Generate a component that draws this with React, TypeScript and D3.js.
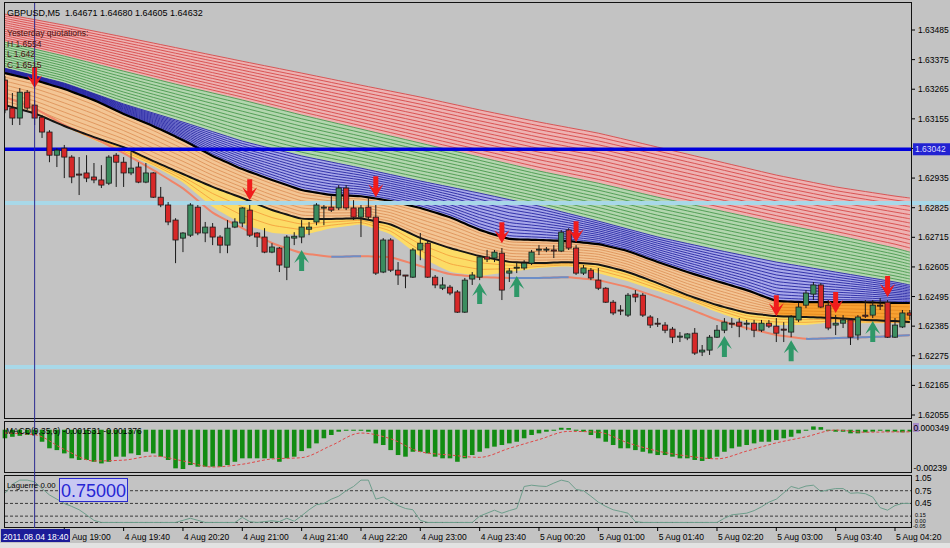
import React, { useEffect } from 'react';
import * as d3 from 'd3';

// GBPUSD M5, one bar every 5 minutes from 4 Aug 2011 18:20 to 5 Aug 04:30
const open = [
  1.63299, 1.63195, 1.63158, 1.63254, 1.63206, 1.63161, 1.63106, 1.6302, 1.63046, 1.63013,
  1.6295, 1.62954, 1.62939, 1.62928, 1.62916, 1.6302, 1.62994, 1.62954, 1.62976, 1.6292,
  1.62954, 1.62864, 1.62835, 1.62779, 1.62712, 1.62723, 1.62827, 1.62731, 1.62753, 1.62716,
  1.62686, 1.62753, 1.62768, 1.62816, 1.62731, 1.62716, 1.6266, 1.62675, 1.62604, 1.62712,
  1.62716, 1.62745, 1.62772, 1.62824, 1.62827, 1.62824, 1.62898, 1.62824, 1.6279, 1.62827,
  1.6279, 1.62586, 1.62705, 1.62593, 1.62575, 1.62567, 1.62668, 1.62693, 1.62567, 1.62526,
  1.6253, 1.62512, 1.62437, 1.6256, 1.62567, 1.62642, 1.62638, 1.62656, 1.62582, 1.62601,
  1.62601, 1.62619, 1.62668, 1.62668, 1.62668, 1.62664, 1.62742, 1.62675, 1.62582, 1.62593,
  1.62556, 1.62526, 1.62474, 1.62445, 1.62426, 1.62504, 1.625, 1.62419, 1.62396, 1.62389,
  1.62374, 1.62344, 1.62341, 1.62359, 1.62289, 1.62296, 1.62344, 1.6237, 1.62396, 1.624,
  1.62393, 1.62396, 1.6237, 1.62396, 1.62385, 1.62374, 1.62363, 1.62408, 1.62463, 1.62504,
  1.62538, 1.62463, 1.62389, 1.62396, 1.62408, 1.62352, 1.62426, 1.62426, 1.62463, 1.62474,
  1.62344, 1.62382, 1.62434,
];
const high = [
  1.63314, 1.63251, 1.63269, 1.63262, 1.63225, 1.63169, 1.63113, 1.63046, 1.63058, 1.6302,
  1.63013, 1.6302, 1.62991, 1.62983, 1.6302, 1.63028, 1.63013, 1.63031, 1.62994, 1.62991,
  1.62957, 1.62902, 1.62846, 1.62786, 1.62734, 1.62842, 1.62835, 1.62772, 1.62768, 1.62723,
  1.62779, 1.62786, 1.62827, 1.62835, 1.62734, 1.62749, 1.62693, 1.62679, 1.62723, 1.62734,
  1.62779, 1.62772, 1.62842, 1.62835, 1.62872, 1.62909, 1.62909, 1.62853, 1.62835, 1.62861,
  1.62835, 1.62712, 1.62712, 1.62623, 1.62575, 1.62675, 1.62731, 1.62705, 1.62575, 1.62567,
  1.62538, 1.62519, 1.62564, 1.62586, 1.62649, 1.62668, 1.62668, 1.62675, 1.62601, 1.62623,
  1.6263, 1.62668, 1.62686, 1.62679, 1.62686, 1.62742, 1.62749, 1.62686, 1.62612, 1.62601,
  1.62601, 1.6253, 1.62482, 1.62463, 1.62508, 1.62519, 1.62508, 1.62426, 1.62415, 1.624,
  1.62382, 1.62363, 1.62359, 1.62378, 1.62315, 1.62352, 1.62389, 1.62415, 1.62415, 1.62415,
  1.62408, 1.62408, 1.62408, 1.62408, 1.62415, 1.624, 1.62426, 1.62471, 1.62519, 1.62549,
  1.62545, 1.62482, 1.62426, 1.62426, 1.62415, 1.62426, 1.62482, 1.62482, 1.62489, 1.62482,
  1.62415, 1.62445, 1.62445,
];
const low = [
  1.63176, 1.63132, 1.63132, 1.63188, 1.63132, 1.63084, 1.62994, 1.62976, 1.62935, 1.62916,
  1.62872, 1.6292, 1.62916, 1.62898, 1.62909, 1.62902, 1.62902, 1.62946, 1.62916, 1.62916,
  1.62861, 1.62827, 1.6276, 1.62619, 1.6266, 1.62716, 1.62723, 1.62697, 1.62686, 1.62656,
  1.62656, 1.62749, 1.62753, 1.62716, 1.62679, 1.62656, 1.62656, 1.62586, 1.62556, 1.62686,
  1.62693, 1.62723, 1.6276, 1.6276, 1.62809, 1.62816, 1.62816, 1.62779, 1.62716, 1.62779,
  1.62575, 1.62582, 1.62586, 1.62538, 1.62526, 1.62564, 1.6263, 1.62564, 1.62526, 1.62519,
  1.625, 1.62434, 1.62434, 1.62538, 1.62556, 1.62623, 1.62623, 1.62482, 1.62549, 1.62582,
  1.62593, 1.62612, 1.62649, 1.6266, 1.62638, 1.6266, 1.62668, 1.62575, 1.62575, 1.62556,
  1.62519, 1.62471, 1.62426, 1.62426, 1.62419, 1.62474, 1.62419, 1.62378, 1.62382, 1.62359,
  1.62322, 1.62326, 1.62333, 1.62278, 1.62274, 1.62278, 1.62341, 1.62359, 1.62378, 1.62344,
  1.6237, 1.62344, 1.62363, 1.62378, 1.62326, 1.62326, 1.62344, 1.624, 1.62452, 1.62482,
  1.62452, 1.6237, 1.62352, 1.62378, 1.62315, 1.62333, 1.62415, 1.62415, 1.62445, 1.62341,
  1.62341, 1.62378, 1.62408,
];
const close = [
  1.63188, 1.63158, 1.63254, 1.63195, 1.63158, 1.63106, 1.6302, 1.63039, 1.63013, 1.62939,
  1.62946, 1.62935, 1.62928, 1.62909, 1.63013, 1.62994, 1.62954, 1.62972, 1.6292, 1.62954,
  1.62864, 1.62835, 1.62772, 1.62705, 1.62731, 1.62835, 1.62731, 1.62753, 1.62716, 1.62686,
  1.62749, 1.62772, 1.62824, 1.62723, 1.62716, 1.6266, 1.62679, 1.62612, 1.62716, 1.62719,
  1.62753, 1.62753, 1.62835, 1.62827, 1.62816, 1.62898, 1.62824, 1.6279, 1.62824, 1.6279,
  1.62582, 1.62705, 1.62593, 1.62575, 1.62571, 1.62668, 1.62693, 1.62567, 1.62538, 1.62538,
  1.62508, 1.62437, 1.62556, 1.62575, 1.62642, 1.62634, 1.6266, 1.62519, 1.6259, 1.62604,
  1.62619, 1.6266, 1.62671, 1.62671, 1.62664, 1.62734, 1.62675, 1.62582, 1.62601, 1.62564,
  1.62526, 1.62474, 1.62434, 1.62441, 1.625, 1.62493, 1.62426, 1.62389, 1.62393, 1.6237,
  1.62344, 1.62348, 1.62356, 1.62285, 1.62296, 1.62344, 1.6237, 1.624, 1.62393, 1.62385,
  1.62396, 1.6237, 1.62396, 1.62385, 1.62359, 1.6237, 1.62419, 1.62456, 1.62508, 1.62538,
  1.62456, 1.62378, 1.62396, 1.62408, 1.62344, 1.62419, 1.62422, 1.62463, 1.6246, 1.62344,
  1.62389, 1.62434, 1.62426,
];

// ribbon edges of the slow averages, read every 8 bars
const slowBars = [0, 8, 16, 24, 32, 40, 48, 56, 64, 72, 80, 88, 96, 104, 112, 120, 122];
const redTop = [1.63544, 1.63503, 1.63459, 1.63414, 1.63369, 1.63325, 1.6328, 1.63236, 1.63188, 1.63143, 1.63102, 1.6305, 1.62998, 1.62946, 1.62902, 1.62868, 1.62861];
const redGreen = [1.6344, 1.63388, 1.63332, 1.63277, 1.63225, 1.63169, 1.63117, 1.63065, 1.63013, 1.62961, 1.62916, 1.62864, 1.62816, 1.62768, 1.62723, 1.62675, 1.6266];
const greenBlue = [1.63343, 1.63288, 1.6321, 1.63143, 1.63072, 1.63017, 1.62972, 1.62924, 1.62879, 1.62831, 1.62775, 1.62716, 1.62668, 1.62623, 1.62586, 1.62549, 1.62538];

// faster lines, read every 4 bars
const fastBars = [0, 4, 8, 12, 16, 20, 24, 28, 32, 36, 40, 44, 48, 52, 56, 60, 64, 68, 72, 76, 80, 84, 88, 92, 96, 100, 104, 108, 112, 116, 120, 122];
const upperBlack = [1.63325, 1.63299, 1.63266, 1.63225, 1.63173, 1.63128, 1.63076, 1.63017, 1.62968, 1.62928, 1.6289, 1.62872, 1.62868, 1.6285, 1.62824, 1.6279, 1.62742, 1.62708, 1.62705, 1.62701, 1.6269, 1.62664, 1.62623, 1.62586, 1.62552, 1.62519, 1.62478, 1.62474, 1.62474, 1.62474, 1.62471, 1.62471];
const lowerBlack = [1.63206, 1.63176, 1.63128, 1.63087, 1.6305, 1.62998, 1.6295, 1.62902, 1.62861, 1.62816, 1.62783, 1.62783, 1.62786, 1.62764, 1.62712, 1.62675, 1.62645, 1.62623, 1.62619, 1.62623, 1.62615, 1.62586, 1.62545, 1.625, 1.62463, 1.62434, 1.62422, 1.62419, 1.62415, 1.62408, 1.62404, 1.624];
const yellowLow = [1.63206, 1.63176, 1.63128, 1.63076, 1.63028, 1.6298, 1.6292, 1.62827, 1.62764, 1.62731, 1.62723, 1.62749, 1.62764, 1.62727, 1.62642, 1.62586, 1.62571, 1.62586, 1.62601, 1.62608, 1.62582, 1.62552, 1.62515, 1.62482, 1.62437, 1.624, 1.62389, 1.62389, 1.624, 1.62396, 1.62396, 1.62396];
const trendLine = [1.63236, 1.63195, 1.63132, 1.63084, 1.63028, 1.62965, 1.62898, 1.62805, 1.62749, 1.62693, 1.62656, 1.62642, 1.62645, 1.62642, 1.62608, 1.62578, 1.62567, 1.62564, 1.62564, 1.62567, 1.62556, 1.6253, 1.62493, 1.62452, 1.62408, 1.62378, 1.62352, 1.62337, 1.62341, 1.62344, 1.62348, 1.62352];
const trendUp = [0, 0, 0, 0, 0, 0, 0, 0, 0, 0, 0, 1, 0, 0, 0, 0, 0, 1, 1, 0, 0, 0, 0, 0, 0, 0, 0, 1, 1, 1, 1, 0];
// bar from which the band between the two black lines turns bright orange
const brightFromBar = 104;

const sellBars = [4, 33, 50, 67, 77, 104, 112, 119];
const sellPrices = [1.63269, 1.62853, 1.62864, 1.62693, 1.62697, 1.62422, 1.62434, 1.62493];
const buyBars = [40, 64, 69, 97, 106, 117];
const buyPrices = [1.62668, 1.62545, 1.62571, 1.62348, 1.62333, 1.62404];

const blueLevel = 1.63042;
const cyanLevels = [1.62842, 1.62233];

const priceTicks = [1.63485, 1.63375, 1.63265, 1.63155, 1.63045, 1.62935, 1.62825, 1.62715, 1.62605, 1.62495, 1.62385, 1.62275, 1.62165, 1.62055];
const timeTickBars = [8, 16, 24, 32, 40, 48, 56, 64, 72, 80, 88, 96, 104, 112, 120];
const timeLabels = ['4 Aug 19:00', '4 Aug 19:40', '4 Aug 20:20', '4 Aug 21:00', '4 Aug 21:40', '4 Aug 22:20', '4 Aug 23:00', '4 Aug 23:40', '5 Aug 00:20', '5 Aug 01:00', '5 Aug 01:40', '5 Aug 02:20', '5 Aug 03:00', '5 Aug 03:40', '5 Aug 04:20'];

const macdHist = [
  -0.00052, -0.00043, -0.00037, -0.00032, -0.00032, -0.00073, -0.00113, -0.00124, -0.00144, -0.00174,
  -0.00184, -0.00184, -0.00195, -0.00205, -0.00195, -0.00164, -0.00164, -0.00144, -0.00154, -0.00134,
  -0.00144, -0.00164, -0.00184, -0.00235, -0.00239, -0.00215, -0.00225, -0.00225, -0.00225, -0.00225,
  -0.00215, -0.00195, -0.00174, -0.00174, -0.00174, -0.00174, -0.00174, -0.00195, -0.00174, -0.00164,
  -0.0013, -0.00113, -0.00083, -0.00052, -0.00032, -0.00012, -0.00004, -0.00003, -0.00004, -0.00012,
  -0.00083, -0.00093, -0.00124, -0.00154, -0.00164, -0.00134, -0.00134, -0.00144, -0.00164, -0.00174,
  -0.00174, -0.00195, -0.00174, -0.00154, -0.00134, -0.00113, -0.00103, -0.00093, -0.00083, -0.00073,
  -0.00052, -0.00032, -0.00022, -0.00012, -0.00004, 0.00012, 0.0001, -0.00004, -0.00012, -0.00032,
  -0.00052, -0.00073, -0.00093, -0.00113, -0.00113, -0.00124, -0.00134, -0.00144, -0.00154, -0.00154,
  -0.00164, -0.00174, -0.00174, -0.00184, -0.0019, -0.00178, -0.00164, -0.00134, -0.00113, -0.00103,
  -0.00093, -0.00083, -0.00073, -0.00073, -0.00063, -0.00052, -0.00043, -0.00022, -0.00004, 0.0002,
  0.00016, -0.00004, -0.00012, -0.00012, -0.00022, -0.00022, -0.00016, -0.00012, -0.00006, -0.00012,
  -0.00012, -0.00016, -0.00012,
];
const macdSignal = [-0.0002, -0.0003, -0.0012, -0.0019, -0.00185, -0.0016, -0.0019, -0.00227, -0.0021, -0.00178, -0.0017, -0.00096, -0.0002, -0.00055, -0.00134, -0.00154, -0.00168, -0.00113, -0.0006, -0.0001, -0.00015, -0.0008, -0.0013, -0.0016, -0.00177, -0.0013, -0.0008, -0.00043, -0.00002, -0.00015, -0.00013, -0.00013];

const laguerre = [
  0.69, 0.9, 1, 1, 0.96, 0.8, 0.65, 0.55, 0.45, 0.38,
  0.3, 0.18, 0.05, 0, 0, 0, 0, 0, 0, 0,
  0, 0, 0, 0, 0.05, 0.1, 0.05, 0, 0, 0,
  0, 0, 0.12, 0.02, 0, 0.02, 0.04, 0.02, 0.1, 0.03,
  0.16, 0.3, 0.42, 0.45, 0.55, 0.62, 0.75, 0.85, 1, 1,
  0.55, 0.6, 0.5, 0.4, 0.33, 0.3, 0.05, 0, 0, 0,
  0, 0, 0, 0, 0.15, 0.22, 0.29, 0.22, 0.28, 0.33,
  0.85, 0.88, 0.86, 0.85, 0.93, 1, 0.96, 0.78, 0.75, 0.62,
  0.48, 0.38, 0.3, 0.26, 0.22, 0.02, 0, 0, 0, 0,
  0, 0, 0, 0, 0, 0, 0, 0.1, 0.18, 0.2,
  0.22, 0.28, 0.37, 0.48, 0.55, 0.7, 0.85, 0.8, 0.86, 0.88,
  0.73, 0.77, 0.8, 0.8, 0.69, 0.7, 0.68, 0.6, 0.35, 0.29,
  0.4, 0.45, 0.45,
];
const lagLevels = [0.75, 0.45, 0.15, 0];
const lagTicks = [1.05, 0.75, 0.45, 0.15, 0, -0.05];

const FONT = 'Liberation Sans, Arial, sans-serif';

const App: React.FC = () => {
  useEffect(() => {
    document.body.style.margin = '0';
  }, []);

  const x = d3.scaleLinear().domain([0, 120]).range([4.96, 895]);
  const y = d3.scaleLinear().domain([1.62055, 1.63485]).range([415, 30]);
  const yM = d3.scaleLinear().domain([-0.00239, 0.000349]).range([469, 424]);
  const yL = d3.scaleLinear().domain([-0.05, 1.05]).range([524.6, 478]);

  const bars = d3.range(open.length);
  const edge = (b: number[], v: number[]) => d3.scaleLinear().domain(b).range(v).clamp(true);
  const eRedTop = edge(slowBars, redTop);
  const eRedGreen = edge(slowBars, redGreen);
  const eGreenBlue = edge(slowBars, greenBlue);
  const eUpper = edge(fastBars, upperBlack);
  const eLower = edge(fastBars, lowerBlack);
  const eYellow = edge(fastBars, yellowLow);
  const eTrend = edge(fastBars, trendLine);

  type Fn = (b: number) => number;
  const area = (top: Fn, bot: Fn, over = bars) =>
    d3.area<number>().x((b) => x(b)).y0((b) => y(bot(b))).y1((b) => y(top(b))).curve(d3.curveBasis)(over) || '';
  const lineOf = (f: Fn, over = bars) => d3.line<number>().x((b) => x(b)).y((b) => y(f(b))).curve(d3.curveBasis)(over) || '';
  const bandLines = (top: Fn, bot: Fn, n: number, over = bars) =>
    d3.range(n).map((k) => lineOf((b) => top(b) + ((bot(b) - top(b)) * k) / n, over));

  const brightBars = bars.filter((b) => b >= brightFromBar);
  const bands = [
    { top: eRedTop, bot: eRedGreen, n: 13, fill: '#eeb2b2', stroke: '#d64a4a', over: bars },
    { top: eRedGreen, bot: eGreenBlue, n: 11, fill: '#b2d6ae', stroke: '#4a984e', over: bars },
    { top: eGreenBlue, bot: eUpper, n: 12, fill: '#a8a8ea', stroke: '#2626a2', over: bars },
    { top: eUpper, bot: eLower, n: 8, fill: '#f3c594', stroke: '#de935a', over: bars },
    { top: eUpper, bot: eLower, n: 5, fill: '#f8a232', stroke: '#e68a20', over: brightBars },
    { top: eLower, bot: eYellow, n: 3, fill: '#fcdc66', stroke: '#f4a23e', over: bars },
  ];

  const downArrow = (cx: number, ty: number) =>
    `M${cx - 2.5},${ty - 21}H${cx + 2.5}V${ty - 9}L${cx + 7.5},${ty - 13}L${cx},${ty}L${cx - 7.5},${ty - 13}L${cx - 2.5},${ty - 9}Z`;
  const upArrow = (cx: number, ty: number) =>
    `M${cx - 2.5},${ty + 21}H${cx + 2.5}V${ty + 9}L${cx + 7.5},${ty + 13}L${cx},${ty}L${cx - 7.5},${ty + 13}L${cx - 2.5},${ty + 9}Z`;

  const signalPath = d3.line<number>().x((b) => x(b)).y((_, i) => yM(macdSignal[i])).curve(d3.curveMonotoneX)(fastBars) || '';
  const lagPath = d3.line<number>().x((b) => x(b)).y((b) => yL(laguerre[b]))(bars) || '';

  const crossX = x(4);
  // Laguerre scale labels: the lowest three crowd together in the original, kept small here
  const lagLabelY = (v: number, i: number) => (i < 3 ? yL(v) + 3 : i === 3 ? yL(v) + 1 : i === 4 ? yL(v) + 0.5 : yL(v) + 3.5);

  return (
    <svg width={950} height={548} style={{ display: 'block', position: 'absolute', left: 0, top: 0, background: '#c3c3c3' }} fontFamily={FONT}>
      <defs>
        <clipPath id="mainClip">
          <rect x={4.5} y={3} width={907} height={415} />
        </clipPath>
        <clipPath id="upClip">
          {trendUp.map((u, j) =>
            u && j < fastBars.length - 1 ? (
              <rect key={j} x={x(fastBars[j])} y={0} width={x(fastBars[j + 1]) - x(fastBars[j])} height={420} />
            ) : null,
          )}
        </clipPath>
      </defs>
      <rect x={0} y={0} width={950} height={548} fill="#c3c3c3" />
      <rect x={0} y={543} width={950} height={5} fill="#e2e2e2" />

      {/* main panel */}
      <g clipPath="url(#mainClip)">
        {bands.map((bd, i) => (
          <g key={i}>
            <path d={area(bd.top, bd.bot, bd.over)} fill={bd.fill} />
            {bandLines(bd.top, bd.bot, bd.n, bd.over).map((d, k) => (
              <path key={k} d={d} fill="none" stroke={bd.stroke} strokeWidth={0.9} />
            ))}
          </g>
        ))}
        <path d={lineOf(eTrend)} fill="none" stroke="#f08468" strokeWidth={2} />
        <path d={lineOf(eTrend)} fill="none" stroke="#6c8ec8" strokeWidth={2} clipPath="url(#upClip)" />
        <path d={lineOf(eLower)} fill="none" stroke="#151515" strokeWidth={2} />
        <path d={lineOf(eUpper)} fill="none" stroke="#000" strokeWidth={2.2} />

        <line x1={4} x2={912} y1={y(blueLevel)} y2={y(blueLevel)} stroke="#0000dc" strokeWidth={3.5} />
      </g>
      {cyanLevels.map((p) => (
        <line key={p} x1={4} x2={950} y1={y(p)} y2={y(p)} stroke="#a8d8e8" strokeWidth={4} />
      ))}

      <g clipPath="url(#mainClip)">
        {bars.map((i) => {
          const cx = x(i);
          const up = close[i] >= open[i];
          const yt = y(Math.max(open[i], close[i]));
          const yb = y(Math.min(open[i], close[i]));
          return (
            <g key={i}>
              <line x1={cx} x2={cx} y1={y(high[i])} y2={y(low[i])} stroke="#1a1a1a" strokeWidth={1} />
              <rect x={cx - 2.6} y={yt} width={5.2} height={Math.max(1, yb - yt)} fill={up ? '#3b8d5f' : '#d82828'} stroke="#1a1a1a" strokeWidth={0.8} />
            </g>
          );
        })}
        {sellBars.map((b, i) => (
          <path key={'s' + b} d={downArrow(x(b), y(sellPrices[i]))} fill="#f01c1c" />
        ))}
        {buyBars.map((b, i) => (
          <path key={'b' + b} d={upArrow(x(b), y(buyPrices[i]))} fill="#2f9868" />
        ))}
      </g>

      {/* MACD panel */}
      {bars.map((i) => {
        const v = macdHist[i];
        const y0 = yM(0);
        const y1 = yM(v);
        return <rect key={i} x={x(i) - 2.3} y={Math.min(y0, y1)} width={4.6} height={Math.max(1, Math.abs(y1 - y0))} fill="#128c12" />;
      })}
      <path d={signalPath} fill="none" stroke="#e04848" strokeWidth={1} strokeDasharray="3,2" />

      {/* Laguerre panel */}
      {lagLevels.map((v) => (
        <line key={v} x1={5} x2={911} y1={yL(v)} y2={yL(v)} stroke="#3a3a3a" strokeWidth={1} strokeDasharray="3,2" />
      ))}
      <path d={lagPath} fill="none" stroke="#6e9e8c" strokeWidth={1} />

      {/* frames */}
      <g fill="none" stroke="#111" strokeWidth={1}>
        <rect x={4.5} y={2.5} width={907} height={416} />
        <rect x={4.5} y={421.5} width={907} height={51} />
        <rect x={4.5} y={475.5} width={907} height={52} />
      </g>

      {/* crosshair */}
      <line x1={crossX} x2={crossX} y1={3} y2={528} stroke="#2a2a90" strokeWidth={1} />

      {/* texts */}
      <text x={7} y={15.5} fontSize={9} fill="#000" style={{ whiteSpace: 'pre' }}>
        GBPUSD,M5  1.64671 1.64680 1.64605 1.64632
      </text>
      {['Yesterday quotations:', 'H 1.6554', 'L 1.642', 'C 1.6515'].map((t, i) => (
        <text key={t} x={7} y={36 + i * 10.7} fontSize={8.5} fill="#4a1414">
          {t}
        </text>
      ))}
      <text x={6} y={433.5} fontSize={8.5} fill="#000">
        MACD(9,35,6) -0.001531 -0.001376
      </text>
      <text x={7} y={488} fontSize={7.8} fill="#000">
        Laguerre 0.00
      </text>
      <rect x={59.5} y={478.5} width={68} height={23} fill="#c8c8f2" stroke="#2a2ad0" strokeWidth={1} />
      <text x={61} y={497} fontSize={18} fill="#2626d4">
        0.75000
      </text>

      {/* price axis */}
      {priceTicks.map((p) => (
        <g key={p}>
          <line x1={912} x2={915} y1={y(p)} y2={y(p)} stroke="#000" />
          {Math.abs(y(p) - y(blueLevel)) > 8 && (
            <text x={918} y={y(p) + 3} fontSize={8.5} fill="#000">
              {p.toFixed(5)}
            </text>
          )}
        </g>
      ))}
      <rect x={913} y={y(blueLevel) - 6} width={37} height={12} fill="#2222d2" />
      <text x={915} y={y(blueLevel) + 3} fontSize={8.5} fill="#dcdcff">
        {blueLevel.toFixed(5)}
      </text>
      <line x1={912} x2={950} y1={y(cyanLevels[0])} y2={y(cyanLevels[0])} stroke="#a8d8e8" strokeWidth={4} opacity={0.85} />
      <line x1={912} x2={950} y1={y(cyanLevels[1])} y2={y(cyanLevels[1])} stroke="#a8d8e8" strokeWidth={4} opacity={0.85} />

      <rect x={913} y={423} width={6} height={9} fill="#a88cc8" />
      <text x={913.5} y={430.5} fontSize={8.5} fill="#000">
        0.000349
      </text>
      <text x={913.5} y={471} fontSize={8.5} fill="#000">
        -0.00239
      </text>
      {lagTicks.map((v, i) => (
        <text key={v} x={v < 0 ? 913 : 915} y={lagLabelY(v, i)} fontSize={i > 2 ? 5.5 : 8.5} fill="#000">
          {v.toFixed(2)}
        </text>
      ))}

      {/* time axis */}
      {timeTickBars.map((b, i) => (
        <g key={b}>
          <line x1={x(b)} x2={x(b)} y1={527} y2={531} stroke="#000" />
          <text x={x(b) + 1} y={540} fontSize={8.5} fill="#000">
            {timeLabels[i]}
          </text>
        </g>
      ))}
      <rect x={1} y={529} width={69} height={13} fill="#1c1c98" />
      <text x={3} y={539.5} fontSize={8.5} fill="#fff">
        2011.08.04 18:40
      </text>
    </svg>
  );
};

export default App;
